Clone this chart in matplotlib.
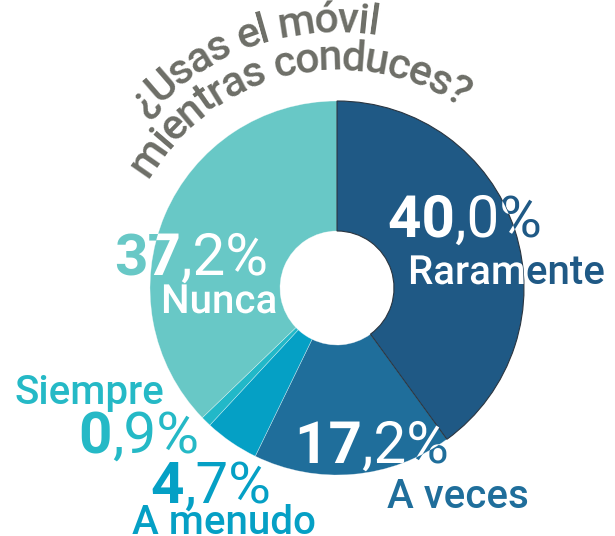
import numpy as np
import matplotlib
matplotlib.use('Agg')
import matplotlib.pyplot as plt
import matplotlib.patheffects as pe
from matplotlib.patches import Circle
from matplotlib.font_manager import FontProperties

categories = ['Raramente', 'A veces', 'A menudo', 'Siempre', 'Nunca']
values = [40.0, 17.2, 4.7, 0.9, 37.2]
colors = ['#1f5985', '#1f6e9b', '#05a0c5', '#22b8c8', '#68c8c6']
label_colors = ['#1f5985', '#1f6e9b', '#05a0c5', '#25b9c6', '#68c8c6']
title_lines = ['¿Usas el móvil', 'mientras conduces?']

W, H = 615, 536
CX, CY = 337, H - 288
R_OUT, R_IN = 187, 57
FONT = ['Roboto', 'DejaVu Sans']
TITLE_COLOR = '#6d6e67'

# split x of number, number baseline, name left x, name baseline,
# number inside pie, name inside pie (image px)
layout = {
    'Raramente': (455, 237, 408, 284, True, True),
    'A veces': (362, 463, 387, 508, True, False),
    'A menudo': (184, 503, 132, 534, False, False),
    'Siempre': (112, 453, 14, 404, False, False),
    'Nunca': (181, 275, 161, 313, True, True),
}

plt.rcParams['font.family'] = FONT

fig = plt.figure(figsize=(W / 100, H / 100), dpi=100)
ax = fig.add_axes([0, 0, 1, 1])
wedges, _ = ax.pie(values, colors=colors, startangle=90, counterclock=False,
                   radius=R_OUT, center=(CX, CY),
                   wedgeprops=dict(width=R_OUT - R_IN, linewidth=0.4, edgecolor='#ffffff80'))
wedges[0].set_edgecolor('#2a3540')
wedges[0].set_linewidth(0.8)
wedges[0].set_zorder(2)
ax.set_xlim(0, W)
ax.set_ylim(0, H)
ax.axis('off')


def put(x, y, s, size, weight, color, ha, inside):
    ax.text(x, H - y, s, fontsize=size, fontweight=weight, color=color,
            ha=ha, va='baseline', zorder=5)
    if inside:
        # white copy drawn as path so it can be clipped to the pie
        t = ax.text(x, H - y, s, fontsize=size, fontweight=weight, color='white',
                    ha=ha, va='baseline', zorder=6, clip_on=True,
                    path_effects=[pe.Normal()])
        t.set_clip_path(Circle((CX, CY), R_OUT, transform=ax.transData))


for cat, val, col in zip(categories, values, label_colors):
    xs, yn, xl, yl, num_in, name_in = layout[cat]
    whole, dec = f'{val:.1f}'.split('.')
    put(xs, yn, whole, 42, 'bold', col, 'right', num_in)
    put(xs, yn, ',' + dec + '%', 42, 'normal', col, 'left', num_in)
    put(xl, yl, cat, 29, 'medium', col, 'left', name_in)

# curved title
renderer = fig.canvas.get_renderer()
prop = FontProperties(family=FONT, size=31, weight='medium')


def adv(c):
    w1 = renderer.get_text_width_height_descent('H' + c + 'H', prop, ismath=False)[0]
    w0 = renderer.get_text_width_height_descent('HH', prop, ismath=False)[0]
    return w1 - w0


for line, r, mid in zip(title_lines, [256, 218], [109.5, 102.8]):
    a = np.array([adv(c) for c in line]) * 0.92
    pos = np.cumsum(a) - a / 2 - a.sum() / 2
    theta = np.radians(mid) - pos / r
    for c, th in zip(line, theta):
        ax.text(CX + r * np.cos(th), CY + r * np.sin(th), c, fontproperties=prop,
                color=TITLE_COLOR, rotation=np.degrees(th) - 90, rotation_mode='anchor',
                ha='center', va='baseline')

fig.savefig('out.png', dpi=100)
